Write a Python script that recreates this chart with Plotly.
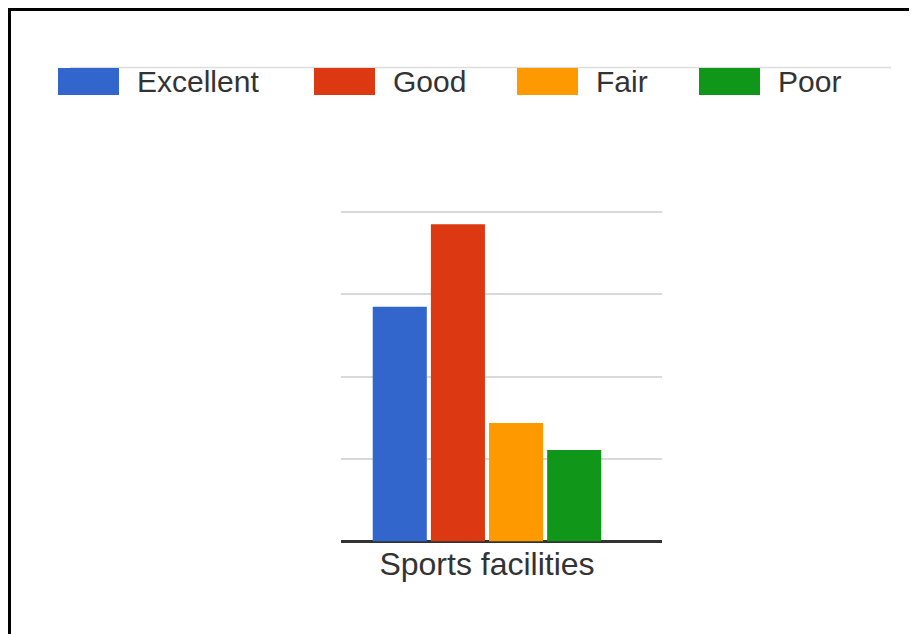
import plotly.graph_objects as go

categories = ["Sports facilities"]
series_names = ["Excellent", "Good", "Fair", "Poor"]
excellent = [28.5]
good = [38.5]
fair = [14.4]
poor = [11.1]
series_values = [excellent, good, fair, poor]
colors = ["#3366CC", "#DC3912", "#FF9900", "#109618"]

# the page body has an 8px margin, so the figure is laid out in page coordinates minus 8
OFF = 8
W, H = 917 - OFF, 634 - OFF
FONT = "Liberation Sans, Arial, sans-serif"

fig = go.Figure()
for name, vals, col in zip(series_names, series_values, colors):
    fig.add_trace(go.Bar(x=categories, y=vals, name=name, marker=dict(color=col, line=dict(width=0)),
                         showlegend=False))

def px(x):
    return (x - OFF) / W

def py(y):
    return 1 - (y - OFF) / H

shapes = []
annotations = []
# frame lines (top and left)
shapes.append(dict(type="line", xref="paper", yref="paper", x0=px(9), x1=1.0, y0=py(9.5), y1=py(9.5),
                   line=dict(color="#000000", width=3)))
shapes.append(dict(type="line", xref="paper", yref="paper", x0=px(9.5), x1=px(9.5), y0=py(8), y1=0,
                   line=dict(color="#000000", width=3)))
# faint line behind legend
shapes.append(dict(type="line", xref="paper", yref="paper", x0=px(70), x1=px(891), y0=py(67.5), y1=py(67.5),
                   line=dict(color="#dddddd", width=1.5), layer="below"))

# manual legend
box_x = [58, 314, 517, 699]
for name, col, bx in zip(series_names, colors, box_x):
    shapes.append(dict(type="rect", xref="paper", yref="paper", x0=px(bx), x1=px(bx + 61),
                       y0=py(95), y1=py(68), fillcolor=col, line=dict(width=0)))
    annotations.append(dict(text=name, xref="paper", yref="paper", x=px(bx + 77), y=py(82),
                            xanchor="left", yanchor="middle", showarrow=False,
                            font=dict(family=FONT, size=30, color="#333333")))

unit = (541.5 - 212) / 40.0
ytop = 40.4
fig.update_layout(
    width=W, height=H,
    margin=dict(l=0, r=0, t=0, b=0),
    paper_bgcolor="white", plot_bgcolor="white",
    barmode="group", bargap=0.2743, bargroupgap=0.07,
    shapes=shapes, annotations=annotations,
    font=dict(family=FONT, size=30, color="#333333"),
    xaxis=dict(domain=[px(341), px(661.5)], range=[-0.4555, 0.5445], showgrid=False,
               showline=False, zeroline=False, ticks="", tickfont=dict(size=32, color="#333333"),
               ticklabelstandoff=0),
    yaxis=dict(domain=[py(541.5), py(541.5 - ytop * unit)], range=[0, ytop], dtick=10,
               showticklabels=False, gridcolor="#d9d9d9", gridwidth=1.5, zeroline=True,
               zerolinecolor="#333333", zerolinewidth=2.5, showline=False, ticks=""),
)

fig.write_html("out.html")
